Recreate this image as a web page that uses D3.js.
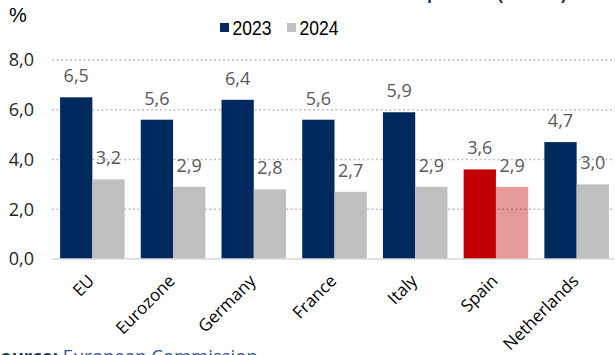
<!DOCTYPE html>
<html><head><meta charset="utf-8">
<script src="https://cdn.jsdelivr.net/npm/d3@7"></script>
<style>body{margin:0;background:#fff;}svg{display:block;}</style>
</head><body>
<svg id="chart" width="615" height="355"></svg>
<script>
const categories = ["EU","Eurozone","Germany","France","Italy","Spain","Netherlands"];
const series2023 = [6.5,5.6,6.4,5.6,5.9,3.6,4.7];
const series2024 = [3.2,2.9,2.8,2.7,2.9,2.9,3.0];
const yTicks = [0,2,4,6,8];
const seriesNames = ["2023","2024"];
const highlight = "Spain";

const svg = d3.select("#chart");
const fmt = v => d3.format(".1f")(v).replace(".", ",");
const dark = "#002A5E", light = "#BFBFBF", red = "#C00000";

const x = d3.scaleBand().domain(categories).range([52, 617]).paddingInner(0.2).paddingOuter(0.1);
const sub = d3.scaleBand().domain(seriesNames).range([0, x.bandwidth()]);
const y = d3.scaleLinear().domain([0, 8]).range([259, 60]);

// title (cut off at top)
svg.append("text").attr("x", 567).attr("y", -1).attr("text-anchor", "end")
  .attr("font-family", "Liberation Sans, Arial").attr("font-weight", "bold").attr("font-size", 18)
  .attr("fill", "#1F3864").text("Inflation forecast comparison (annual)");

// gridlines
svg.append("g").selectAll("line").data(yTicks.filter(d => d > 0)).join("line")
  .attr("x1", 52).attr("x2", 615).attr("y1", d => y(d)).attr("y2", d => y(d))
  .attr("stroke", "#BFBFBF").attr("stroke-width", 1.5).attr("stroke-dasharray", "2,2.5");

// y axis labels
const yAxis = d3.axisLeft(y).tickValues(yTicks).tickFormat(fmt).tickSize(0).tickPadding(0);
const ya = svg.append("g").attr("transform", "translate(34,0)").call(yAxis);
ya.select(".domain").remove();
ya.selectAll("text").attr("font-family", "Open Sans").attr("font-size", 18).attr("fill", "#262626");

// bars
const groups = svg.append("g").selectAll("g").data(categories).join("g")
  .attr("transform", d => `translate(${x(d)},0)`);
groups.append("rect").attr("class", "b23")
  .attr("x", sub("2023")).attr("width", sub.bandwidth())
  .attr("y", (d, i) => y(series2023[i])).attr("height", (d, i) => y(0) - y(series2023[i]))
  .attr("fill", d => d === highlight ? red : dark);
groups.append("rect").attr("class", "b24")
  .attr("x", sub("2024")).attr("width", sub.bandwidth())
  .attr("y", (d, i) => y(series2024[i])).attr("height", (d, i) => y(0) - y(series2024[i]))
  .attr("fill", d => d === highlight ? red : light)
  .attr("fill-opacity", d => d === highlight ? 0.4 : 1);

// value labels
groups.append("text").attr("x", sub("2023") + sub.bandwidth() / 2)
  .attr("y", (d, i) => y(series2023[i]) - 15).attr("text-anchor", "middle")
  .attr("font-family", "Open Sans").attr("font-size", 18).attr("fill", "#595959")
  .text((d, i) => fmt(series2023[i]));
groups.append("text").attr("x", sub("2024") + sub.bandwidth() / 2)
  .attr("y", (d, i) => y(series2024[i]) - 15).attr("text-anchor", "middle")
  .attr("font-family", "Open Sans").attr("font-size", 18).attr("fill", "#595959")
  .text((d, i) => fmt(series2024[i]));

// baseline
svg.append("line").attr("x1", 52).attr("x2", 615).attr("y1", y(0)).attr("y2", y(0))
  .attr("stroke", "#D9D9D9").attr("stroke-width", 1.5);

// category labels
const xAxis = d3.axisBottom(x).tickSize(0).tickPadding(0);
const xa = svg.append("g").attr("transform", `translate(0,${y(0)})`).call(xAxis);
xa.select(".domain").remove();
xa.selectAll("text")
  .attr("font-family", "Open Sans").attr("font-size", 17).attr("fill", "#000")
  .attr("text-anchor", "end").attr("dy", null).attr("y", 0)
  .attr("transform", "translate(3,23) rotate(-45)");

// legend
const leg = svg.append("g").attr("font-family", "Liberation Sans, Arial").attr("font-size", 20).attr("fill", "#000");
const legX = [220, 287];
seriesNames.forEach((s, i) => {
  leg.append("rect").attr("x", legX[i]).attr("y", 23).attr("width", 9).attr("height", 9)
    .attr("fill", i === 0 ? dark : light);
  leg.append("text").attr("x", legX[i] + 12.5).attr("y", 35)
    .attr("textLength", 39).attr("lengthAdjust", "spacingAndGlyphs").text(s);
});

// unit
svg.append("text").attr("x", 9).attr("y", 21.5).attr("font-family", "Liberation Sans, Arial")
  .attr("font-size", 20).attr("fill", "#000").text("%");

// source
const src = svg.append("text").attr("x", -10).attr("y", 363).attr("font-family", "Open Sans").attr("font-size", 18.5);
src.append("tspan").attr("font-weight", "bold").attr("fill", "#1F3864").text("Source:");
src.append("tspan").attr("fill", "#2F5597").text(" European Commission");
</script>
</body></html>
